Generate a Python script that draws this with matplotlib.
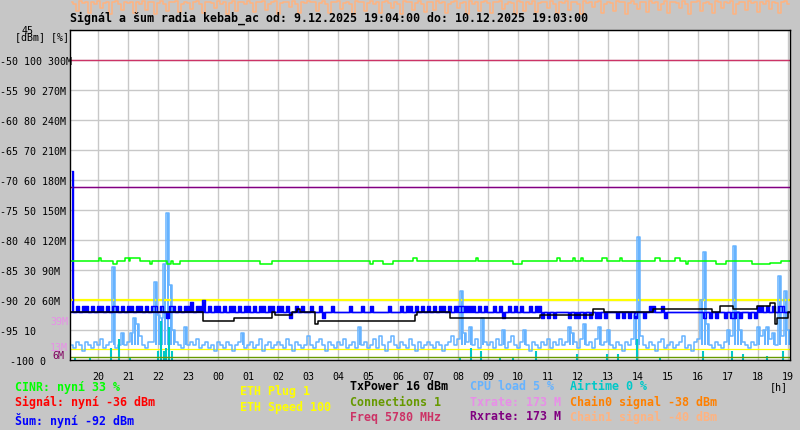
import numpy as np
import matplotlib
matplotlib.use("Agg")
import matplotlib.pyplot as plt

W, H = 800, 430
FONT = "DejaVu Sans Mono"

# x axis = minutes since 9.12.2025 19:04:00, binned series use 6 minute steps
hour_labels = ["20", "21", "22", "23", "00", "01", "02", "03", "04", "05", "06", "07",
               "08", "09", "10", "11", "12", "13", "14", "15", "16", "17", "18", "19"]

ylab_dbm = [-50, -55, -60, -65, -70, -75, -80, -85, -90, -95, -100]
ylab_text = ["-50 100 300M", "-55 90 270M", "-60 80 240M", "-65 70 210M",
             "-70 60 180M", "-75 50 150M", "-80 40 120M", "-85 30 90M",
             "-90 20 60M", "-95 10", "-100 0"]

# CINR [%] step changes
cinr_min = [0, 58, 62, 86, 94, 110, 118, 120, 140, 160, 164, 194, 202, 206, 220, 380,
            404, 600, 606, 626, 646, 686, 694, 812, 816, 886, 904, 974, 980, 1006,
            1010, 1022, 1026, 1064, 1074, 1100, 1104, 1170, 1180, 1210, 1220, 1232,
            1236, 1292, 1312, 1364, 1400, 1422, 1440]
cinr_val = [33, 34, 33, 32, 33, 34, 33, 34, 33, 32, 33, 32, 33, 32, 33, 32,
            33, 32, 33, 32, 33, 34, 33, 34, 33, 32, 33, 34, 33, 34,
            33, 34, 33, 34, 33, 34, 33, 34, 33, 34, 33, 32,
            33, 32, 33, 32, 32.5, 33, 33]

# TxPower [dBm] step changes (drawn on the % scale)
txpower_min = [0, 266, 328, 404, 410, 444, 454, 460, 490, 496, 690, 694, 760, 940,
               1046, 1068, 1166, 1284, 1300, 1326, 1374, 1400, 1410, 1414, 1436, 1440]
txpower_val = [16, 13, 14, 16, 15, 16, 17, 16, 12, 13, 15, 16, 14, 15,
               17, 16, 17, 16, 18, 17, 18, 19, 12, 14, 16, 16]

# Sum (noise) [dBm], 6 minute bins
sum_dbm = [
    -68.5, -92, -91, -92, -91, -91, -92, -91, -92, -91, -91, -92, -91, -92, -91, -91, -92, -91, -92, -91,
    -91, -92, -91, -91, -92, -91, -92, -91, -91, -92, -91, -92, -93, -91, -91, -92, -91, -92, -91, -91,
    -90.3, -92, -91, -91, -90, -92, -91, -92, -91, -91, -92, -91, -92, -91, -91, -92, -91, -92, -91, -91,
    -92, -91, -92, -91, -91, -92, -91, -91, -92, -91, -91, -92, -91, -93, -92, -91, -92, -91, -92, -92,
    -91, -92, -92, -91, -93, -92, -92, -91, -92, -92, -92, -92, -92, -91, -92, -92, -92, -91, -92, -92,
    -91, -92, -92, -92, -92, -92, -91, -92, -92, -92, -91, -92, -91, -91, -92, -91, -92, -91, -92, -91,
    -92, -91, -92, -91, -91, -92, -91, -92, -91, -91, -91, -91, -91, -91, -91, -92, -91, -92, -91, -92,
    -92, -91, -92, -91, -93, -92, -91, -92, -91, -92, -91, -92, -92, -91, -92, -91, -91, -93, -92, -93,
    -92, -93, -92, -92, -92, -92, -93, -92, -93, -93, -92, -93, -92, -93, -92, -93, -93, -92, -93, -92,
    -92, -92, -93, -92, -93, -92, -93, -92, -93, -92, -92, -93, -92, -91, -91, -92, -92, -91, -93, -92,
    -92, -92, -92, -92, -92, -92, -92, -92, -92, -92, -92, -93, -92, -93, -92, -93, -92, -92, -93, -92,
    -93, -93, -92, -93, -92, -92, -93, -92, -93, -91, -91, -92, -91, -92, -91, -92, -91, -91, -92, -92,
]

# CPU load [%], 6 minute bins
cpu_pct = [
    5, 4, 6, 5, 3, 6, 5, 4, 6, 5, 7, 4, 5, 6, 31, 4, 5, 9, 5, 6,
    9, 14, 12, 8, 5, 4, 6, 6, 26, 15, 14, 32, 49, 25, 10, 6, 5, 4, 11, 5,
    6, 5, 7, 4, 5, 6, 4, 5, 3, 6, 5, 4, 6, 5, 3, 5, 6, 9, 4, 5,
    6, 4, 5, 7, 3, 5, 6, 4, 5, 6, 5, 4, 7, 5, 3, 6, 5, 4, 5, 8,
    5, 4, 6, 7, 5, 3, 6, 5, 4, 6, 5, 7, 4, 5, 6, 4, 11, 5, 6, 4,
    5, 7, 4, 8, 5, 3, 6, 8, 5, 4, 6, 5, 4, 7, 5, 3, 6, 4, 5, 6,
    5, 4, 6, 5, 3, 5, 6, 8, 5, 7, 23, 9, 6, 11, 5, 7, 4, 14, 6, 5,
    6, 4, 7, 5, 10, 4, 6, 8, 5, 4, 6, 10, 5, 3, 6, 5, 4, 6, 5, 7,
    4, 6, 5, 7, 5, 6, 11, 9, 6, 4, 7, 12, 5, 6, 4, 7, 11, 5, 6, 10,
    5, 4, 6, 5, 3, 6, 5, 7, 15, 41, 8, 5, 4, 6, 5, 3, 6, 7, 4, 5,
    6, 4, 5, 6, 8, 4, 5, 3, 6, 7, 20, 36, 12, 5, 4, 6, 5, 4, 6, 10,
    8, 38, 16, 10, 6, 5, 4, 6, 5, 11, 8, 10, 11, 7, 9, 5, 28, 8, 23, 10,
]

# Chain1 signal [dBm], 6 minute bins (sits above the plot top)
chain1_dbm = [
    -40.3, -40.6, -41.9, -40.2, -40.5, -40.4, -42.1, -40.3, -40.7, -40.2, -41.4, -40.5, -40.3, -42.3, -40.4, -40.2, -40.6, -41.7, -40.3, -40.5,
    -40.4, -42.2, -40.3, -40.6, -40.2, -41.6, -40.4, -40.3, -42.4, -40.5, -40.2, -40.7, -41.8, -40.3, -40.4, -40.2, -42.0, -40.6, -40.3, -40.5,
    -41.5, -40.3, -40.2, -40.6, -42.2, -40.4, -40.3, -40.5, -41.3, -40.2, -40.6, -40.3, -42.4, -40.5, -40.2, -41.9, -40.4, -40.3, -40.7, -40.2,
    -40.5, -42.0, -40.3, -40.4, -40.2, -41.7, -40.6, -40.3, -40.2, -42.3, -40.5, -40.4, -40.3, -41.2, -40.2, -40.6, -42.1, -40.3, -40.5, -40.2,
    -40.4, -40.3, -41.8, -40.5, -40.2, -40.6, -42.2, -40.3, -40.4, -40.2, -41.5, -40.5, -40.3, -40.7, -42.4, -40.2, -40.4, -40.3, -41.9, -40.5,
    -40.2, -40.6, -40.3, -42.1, -40.4, -40.2, -40.5, -41.4, -40.3, -40.6, -42.3, -40.2, -40.4, -40.3, -41.7, -40.5, -40.2, -40.6, -42.0, -40.3,
    -40.4, -41.6, -40.2, -40.5, -40.3, -42.2, -40.6, -40.4, -40.2, -41.3, -40.5, -40.3, -42.4, -40.2, -40.6, -40.4, -41.8, -40.3, -40.2, -40.5,
    -42.1, -40.3, -40.4, -40.2, -41.5, -40.6, -40.3, -40.5, -42.3, -40.2, -40.4, -41.9, -40.3, -40.6, -40.2, -42.0, -40.5, -40.3, -40.4, -41.4,
    -40.2, -40.6, -42.2, -40.3, -40.5, -40.2, -41.7, -40.4, -40.3, -40.6, -42.4, -40.2, -40.5, -40.3, -41.2, -40.4, -40.2, -42.1, -40.6, -40.3,
    -40.5, -41.8, -40.2, -40.4, -40.3, -42.3, -40.5, -40.2, -40.6, -41.5, -40.3, -40.4, -42.0, -40.2, -40.5, -40.3, -41.6, -40.6, -40.2, -42.2,
    -40.4, -40.3, -40.5, -41.3, -40.2, -40.6, -42.4, -40.3, -40.4, -40.2, -41.9, -40.5, -40.3, -40.6, -42.1, -40.2, -40.4, -41.4, -40.3, -40.5,
    -40.2, -42.3, -40.6, -40.3, -40.4, -41.7, -40.2, -40.5, -40.3, -42.0, -40.4, -40.6, -40.2, -41.5, -40.3, -40.5, -42.2, -40.4, -40.2, -40.6,
]

# Airtime [%] spikes, rest of the time 0
airtime_min = [10, 40, 82, 98, 120, 176, 182, 188, 192, 198, 204, 780, 802, 822, 860,
               886, 932, 1014, 1074, 1096, 1134, 1180, 1266, 1324, 1346, 1394, 1426]
airtime_val = [1, 1, 4, 7, 1, 3, 13, 3, 4, 11, 3, 1, 4, 3, 1,
               1, 3, 2, 2, 2, 7, 1, 3, 3, 2, 1.5, 3]

freq_mhz = 5780
rate_mbit = 173
eth_speed = 100
connections = 1


def pct(p):
    return -100 + np.asarray(p, dtype=float) * 0.5


def mbit(m):
    return -100 + np.asarray(m, dtype=float) / 6.0


fig = plt.figure(figsize=(W / 100, H / 100), dpi=100, facecolor="#c6c6c6")
ax = fig.add_axes([70 / W, 1 - 360 / H, 720 / W, 330 / H])
ax.set_facecolor("white")
ax.set_xlim(0, 1440)
ax.set_ylim(-100, -45)

hour_pos = [56 + 60 * k for k in range(len(hour_labels))]
ax.set_xticks(hour_pos)
ax.set_yticks(np.arange(-100, -44, 5))
ax.tick_params(length=0, labelbottom=False, labelleft=False)
ax.grid(True, color="#c8c8c8", lw=1.0)
ax.set_axisbelow(True)
for s in ax.spines.values():
    s.set_color("black")
    s.set_linewidth(1.0)

bin_min = np.arange(len(sum_dbm)) * 6 + 3
cpu = np.array(cpu_pct, dtype=float)
noise = np.array(sum_dbm, dtype=float)

# horizontal info lines
ax.axhline(-50, color="#cc3366", lw=1.0)                 # Freq
ax.axhline(mbit(rate_mbit), color="#e88ee8", lw=1.0)     # Txrate
ax.axhline(mbit(rate_mbit), color="#800080", lw=1.0)     # Rxrate
ax.axhline(-90, color="#ffff00", lw=1.6)                 # ETH speed
ax.axhline(pct(3.67), color="#ffff00", lw=0.9)           # ETH plug

# CPU load: jittery line plus solid bars for the peaks
peak = cpu >= 9
ax.bar(bin_min[peak], pct(cpu[peak]) - pct(5), bottom=pct(5), width=4,
       color="#66b3ff", linewidth=0)
ax.plot(bin_min, pct(cpu), color="#66b3ff", lw=1.1, drawstyle="steps-mid")

ax.vlines(airtime_min, -100, pct(airtime_val), color="#00c8c8", lw=1.5)
ax.axhline(pct(connections), color="#669900", lw=1.0)

# noise: filled comb around the -92 dBm base
ax.fill_between(bin_min, -92, noise, step="mid", color="#0000ff", linewidth=0)
ax.plot(bin_min, noise, color="#0000ff", lw=1.0, drawstyle="steps-mid")
ax.axhline(-92, color="#0000ff", lw=1.0)

ax.plot(txpower_min, pct(txpower_val), color="black", lw=1.1, drawstyle="steps-post")
ax.plot(cinr_min, pct(cinr_val), color="#00ff00", lw=1.1, drawstyle="steps-post")
ax.plot(bin_min, chain1_dbm, color="#ffb380", lw=1.1, drawstyle="steps-mid", clip_on=False)


def ftext(x, y, s, size=7.2, bold=False, color="black", ha="left"):
    fig.text(x / W, 1 - y / H, s, fontsize=size, family=FONT, ha=ha, va="center",
             weight="bold" if bold else "normal", color=color)


ftext(70, 18, "Signál a šum radia kebab_ac od: 9.12.2025 19:04:00 do: 10.12.2025 19:03:00",
      size=8.4, bold=True)

# left axis labels
for v, s in zip(ylab_dbm, ylab_text):
    y = 360 - (v + 100) * 6 + 2
    ftext(10 if v == -100 else 0, y, s)
ftext(22, 31, "45")
ftext(15, 37, "[dBm] [%]")
ftext(50, 322, "39M", color="#e88ee8")
ftext(50, 348, "13M", color="#e88ee8")
ftext(52, 356, "6M", color="#800060")

# time axis
for p, lab in zip(hour_pos, hour_labels):
    ftext(70 + p / 2, 377, lab, ha="center")
ftext(770, 387, "[h]")

# legend
ftext(15, 387, "CINR: nyní 33 %", size=8.4, bold=True, color="#00ff00")
ftext(15, 402, "Signál: nyní -36 dBm", size=8.4, bold=True, color="#ff0000")
ftext(15, 421, "Šum: nyní -92 dBm", size=8.4, bold=True, color="#0000ff")
ftext(240, 392, "ETH Plug 1", size=8.4, bold=True, color="#ffff00")
ftext(240, 407, f"ETH Speed {eth_speed}", size=8.4, bold=True, color="#ffff00")
ftext(350, 387, "TxPower 16 dBm", size=8.4, bold=True, color="black")
ftext(350, 402, f"Connections {connections}", size=8.4, bold=True, color="#669900")
ftext(350, 417, f"Freq {freq_mhz} MHz", size=8.4, bold=True, color="#cc3366")
ftext(470, 387, "CPU load 5 %", size=8.4, bold=True, color="#66b3ff")
ftext(470, 402, f"Txrate: {rate_mbit} M", size=8.4, bold=True, color="#e88ee8")
ftext(470, 417, f"Rxrate: {rate_mbit} M", size=8.4, bold=True, color="#800080")
ftext(570, 387, "Airtime 0 %", size=8.4, bold=True, color="#00c8c8")
ftext(570, 402, "Chain0 signal -38 dBm", size=8.4, bold=True, color="#ff8000")
ftext(570, 417, "Chain1 signal -40 dBm", size=8.4, bold=True, color="#ffb380")

fig.savefig("out.png", dpi=100, facecolor=fig.get_facecolor())
